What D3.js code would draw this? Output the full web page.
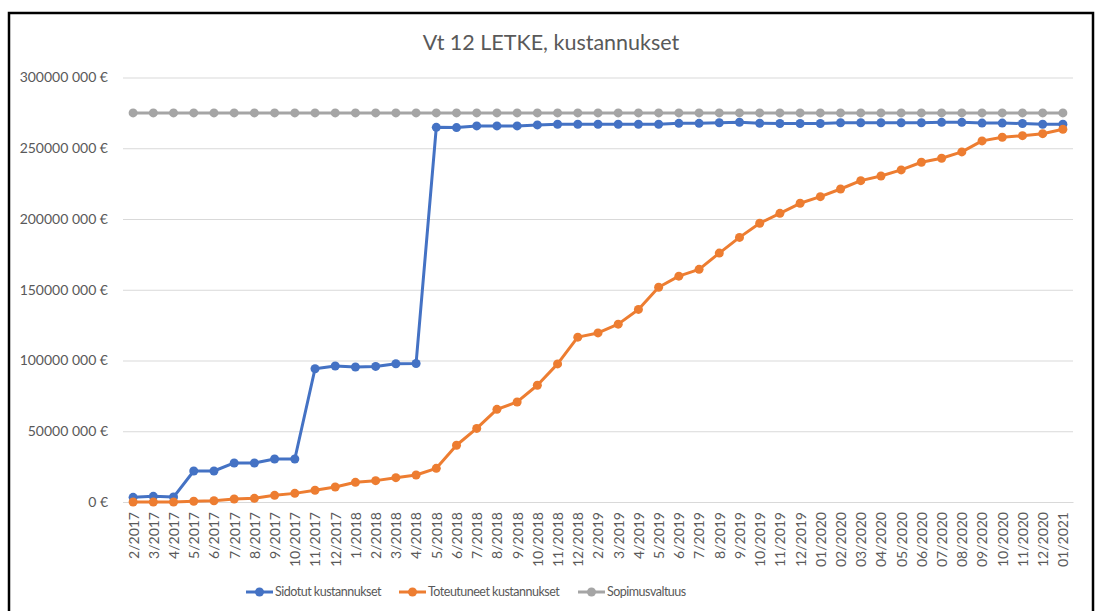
<!DOCTYPE html>
<html>
<head>
<meta charset="utf-8">
<script src="https://cdn.jsdelivr.net/npm/d3@7"></script>
<style>
  body { margin: 0; background: #fff; }
  text { font-family: Lato, "Open Sans", sans-serif; fill: #595959; }
</style>
</head>
<body>
<div id="chart"></div>
<script>
// kuukaudet
const categories = ["2/2017","3/2017","4/2017","5/2017","6/2017","7/2017","8/2017","9/2017","10/2017","11/2017","12/2017",
  "1/2018","2/2018","3/2018","4/2018","5/2018","6/2018","7/2018","8/2018","9/2018","10/2018","11/2018","12/2018",
  "2/2019","3/2019","4/2019","5/2019","6/2019","7/2019","8/2019","9/2019","10/2019","11/2019","12/2019",
  "01/2020","02/2020","03/2020","04/2020","05/2020","06/2020","07/2020","08/2020","09/2020","10/2020","11/2020","12/2020",
  "01/2021"]

// arvot miljoonina euroina
const sidotut = [3.3, 4.0, 3.5, 21.9, 21.9, 27.6, 27.6, 30.4, 30.4, 94.2, 96.1,
  95.4, 95.8, 97.7, 97.9, 264.8, 264.6, 265.8, 265.8, 265.8, 266.5, 267, 267,
  267, 267, 267, 267, 267.6, 267.6, 268, 268.4, 267.7, 267.5, 267.5,
  267.5, 268, 268, 268, 268, 268, 268.3, 268.3, 267.8, 267.8, 267.5, 267,
  267]
const toteutuneet = [0, 0, 0, 0.5, 0.9, 2.1, 2.6, 4.7, 6.1, 8.3, 10.6,
  13.9, 15.1, 17.2, 19.1, 23.8, 40.1, 52, 65.5, 70.7, 82.5, 97.6, 116.5,
  119.5, 125.7, 136.1, 151.8, 159.6, 164.4, 175.9, 187, 197, 204, 211.1,
  215.8, 221.2, 227.1, 230.4, 234.7, 240.1, 242.9, 247.4, 255.2, 257.8, 258.9, 260.3,
  263.4]
const sopimusvaltuus = [275, 275, 275, 275, 275, 275, 275, 275, 275, 275, 275,
  275, 275, 275, 275, 275, 275, 275, 275, 275, 275, 275, 275,
  275, 275, 275, 275, 275, 275, 275, 275, 275, 275, 275,
  275, 275, 275, 275, 275, 275, 275, 275, 275, 275, 275, 275,
  275]
const yTicks = [0, 50e6, 100e6, 150e6, 200e6, 250e6, 300e6]

const series = [
  {name: "Sidotut kustannukset", values: sidotut, color: "#4472C4"},
  {name: "Toteutuneet kustannukset", values: toteutuneet, color: "#ED7D31"},
  {name: "Sopimusvaltuus", values: sopimusvaltuus, color: "#A5A5A5"}
]

const width = 1099
const height = 611
const plot = {left: 123, right: 1073, top: 77.5, bottom: 502}

const svg = d3.select("#chart")
  .append("svg")
  .attr("width", width)
  .attr("height", height)

// kehys
svg.append("rect")
  .attr("x", 9).attr("y", 13)
  .attr("width", 1084).attr("height", 640)
  .attr("fill", "#fff")
  .attr("stroke", "#000")
  .attr("stroke-width", 2.5)

svg.append("text")
  .attr("x", 551).attr("y", 50)
  .attr("text-anchor", "middle")
  .style("font-size", "21.5px")
  .text("Vt 12 LETKE, kustannukset")

const x = d3.scalePoint()
  .domain(categories)
  .range([plot.left, plot.right])
  .padding(0.5)

const y = d3.scaleLinear()
  .domain([0, 300e6])
  .range([plot.bottom, plot.top])

const fmt = v => v === 0 ? "0 €" : (v / 1000) + " 000 €"

// y-akseli ja ruudukko
const gy = svg.append("g")
  .attr("transform", "translate(" + plot.left + ",0)")
  .call(d3.axisLeft(y).tickValues(yTicks).tickFormat(fmt)
    .tickSize(-(plot.right - plot.left)).tickPadding(15))
gy.select(".domain").remove()
gy.selectAll("line").attr("stroke", "#d9d9d9").attr("stroke-width", 1)
gy.selectAll("text").style("font-size", "14px").style("fill", "#595959")

// x-akseli
const gx = svg.append("g")
  .attr("transform", "translate(0," + plot.bottom + ")")
  .call(d3.axisBottom(x).tickSize(0))
gx.select(".domain").attr("stroke", "#d9d9d9")
gx.selectAll("text")
  .attr("transform", "rotate(-90)")
  .attr("text-anchor", "end")
  .attr("x", -10)
  .attr("y", 0)
  .attr("dy", "0.35em")
  .style("font-size", "14px")
  .style("fill", "#595959")

const line = d3.line()
  .x((d, i) => x(categories[i]))
  .y(d => y(d * 1e6))

series.forEach(function (s) {
  svg.append("path")
    .datum(s.values)
    .attr("fill", "none")
    .attr("stroke", s.color)
    .attr("stroke-width", 3)
    .attr("stroke-linejoin", "round")
    .attr("d", line)
  svg.append("g").selectAll("circle")
    .data(s.values)
    .enter().append("circle")
    .attr("cx", (d, i) => x(categories[i]))
    .attr("cy", d => y(d * 1e6))
    .attr("r", 4.5)
    .attr("fill", s.color)
})

// selite
const legendX = [246, 399, 578]
series.forEach(function (s, i) {
  const g = svg.append("g").attr("transform", "translate(" + legendX[i] + ",592)")
  g.append("line").attr("x1", 0).attr("x2", 27)
    .attr("stroke", s.color).attr("stroke-width", 3)
  g.append("circle").attr("cx", 13.5).attr("r", 4.5).attr("fill", s.color)
  g.append("text").attr("x", 29).attr("dy", "0.35em")
    .style("font-size", "12.5px")
    .style("letter-spacing", "-0.5px")
    .text(s.name)
})
</script>
</body>
</html>
